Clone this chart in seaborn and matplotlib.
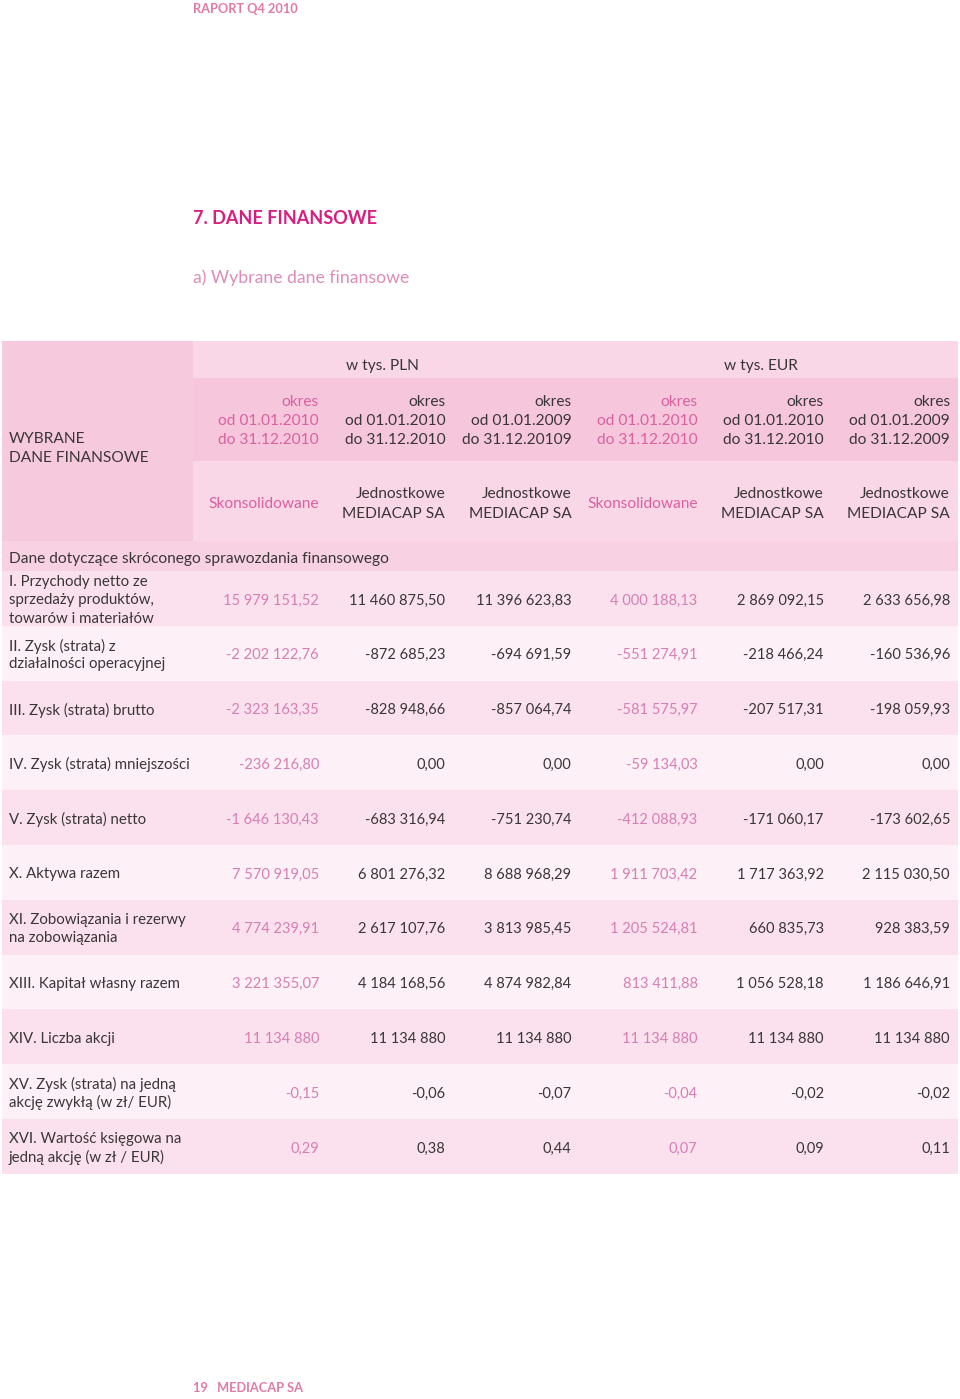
import matplotlib
matplotlib.use("Agg")
import matplotlib.pyplot as plt
import seaborn as sns

sns.set_theme(style="white")
plt.rcParams['font.family'] = ['Lato', 'DejaVu Sans']

# dane tabeli
waluty = ["w tys. PLN", "w tys. EUR"]
okresy = [
    ["okres", "od 01.01.2010", "do 31.12.2010"],
    ["okres", "od 01.01.2010", "do 31.12.2010"],
    ["okres", "od 01.01.2009", "do 31.12.20109"],
    ["okres", "od 01.01.2010", "do 31.12.2010"],
    ["okres", "od 01.01.2010", "do 31.12.2010"],
    ["okres", "od 01.01.2009", "do 31.12.2009"],
]
rodzaje = [
    ["Skonsolidowane"],
    ["Jednostkowe", "MEDIACAP SA"],
    ["Jednostkowe", "MEDIACAP SA"],
    ["Skonsolidowane"],
    ["Jednostkowe", "MEDIACAP SA"],
    ["Jednostkowe", "MEDIACAP SA"],
]
pozycje = [
    ["I. Przychody netto ze", "sprzedaży produktów,", "towarów i materiałów"],
    ["II. Zysk (strata) z", "działalności operacyjnej"],
    ["III. Zysk (strata) brutto"],
    ["IV. Zysk (strata) mniejszości"],
    ["V. Zysk (strata) netto"],
    ["X. Aktywa razem"],
    ["XI. Zobowiązania i rezerwy", "na zobowiązania"],
    ["XIII. Kapitał własny razem"],
    ["XIV. Liczba akcji"],
    ["XV. Zysk (strata) na jedną", "akcję zwykłą (w zł/ EUR)"],
    ["XVI. Wartość księgowa na", "jedną akcję (w zł / EUR)"],
]
wartosci = [
    ["15 979 151,52", "11 460 875,50", "11 396 623,83", "4 000 188,13", "2 869 092,15", "2 633 656,98"],
    ["-2 202 122,76", "-872 685,23", "-694 691,59", "-551 274,91", "-218 466,24", "-160 536,96"],
    ["-2 323 163,35", "-828 948,66", "-857 064,74", "-581 575,97", "-207 517,31", "-198 059,93"],
    ["-236 216,80", "0,00", "0,00", "-59 134,03", "0,00", "0,00"],
    ["-1 646 130,43", "-683 316,94", "-751 230,74", "-412 088,93", "-171 060,17", "-173 602,65"],
    ["7 570 919,05", "6 801 276,32", "8 688 968,29", "1 911 703,42", "1 717 363,92", "2 115 030,50"],
    ["4 774 239,91", "2 617 107,76", "3 813 985,45", "1 205 524,81", "660 835,73", "928 383,59"],
    ["3 221 355,07", "4 184 168,56", "4 874 982,84", "813 411,88", "1 056 528,18", "1 186 646,91"],
    ["11 134 880", "11 134 880", "11 134 880", "11 134 880", "11 134 880", "11 134 880"],
    ["-0,15", "-0,06", "-0,07", "-0,04", "-0,02", "-0,02"],
    ["0,29", "0,38", "0,44", "0,07", "0,09", "0,11"],
]
skonsolidowane = [0, 3]  # kolumny wyróżnione kolorem

DARK = "#3a3638"
PINK_TXT = "#d9619f"
PINK_VAL = "#d67fb3"
DY = 2  # przesuniecie tekstu w dol

fig = plt.figure(figsize=(9.6, 13.99), dpi=100)
ax = fig.add_axes([0, 0, 1, 1])
ax.set_xlim(0, 960)
ax.set_ylim(1399, 0)
ax.axis("off")


def txt(x, y, s, **kw):
    kw.setdefault("va", "center")
    ax.text(x, y + DY, s, **kw)


# naglowki strony
txt(193, 7, "RAPORT Q4 2010", color="#e07aa8", fontsize=9.2, fontweight="bold")
txt(193, 217, "7. DANE FINANSOWE", color="#d81c80", fontsize=13, fontweight="bold")
txt(193, 276, "a) Wybrane dane finansowe", color="#dc8cba", fontsize=12.7)
txt(193, 1386, "19   MEDIACAP SA", color="#e07aa8", fontsize=9.2, fontweight="bold")

# tlo naglowka tabeli
bar = dict(linewidth=0)
ax.barh(441, 191, height=200, left=2, color="#f6c9dd", **bar)
ax.barh(359.5, 765, height=37, left=193, color="#f9d7e7", **bar)
ax.barh(419.5, 765, height=83, left=193, color="#f6c7dc", **bar)
ax.barh(501, 765, height=80, left=193, color="#f9d7e7", **bar)
ax.barh(556, 956, height=30, left=2, color="#f8d2e3", **bar)

txt(9, 437, "WYBRANE", color=DARK, fontsize=11.2)
txt(9, 456, "DANE FINANSOWE", color=DARK, fontsize=11.2)
txt(9, 557, "Dane dotyczące skróconego sprawozdania finansowego", color=DARK, fontsize=11.2)

col_right = [319 + 126.2 * i for i in range(6)]
for k, w in enumerate(waluty):
    txt(382 + 379 * k, 364, w, color=DARK, fontsize=11.2, ha="center")

for i in range(6):
    c = PINK_TXT if i in skonsolidowane else DARK
    for j, line in enumerate(okresy[i]):
        txt(col_right[i], 400 + 19 * j, line, color=c, fontsize=11.2, ha="right")
    lines = rodzaje[i]
    y0 = 502 - 9.5 * (len(lines) - 1)
    for j, line in enumerate(lines):
        txt(col_right[i], y0 + 19 * j, line, color=c, fontsize=11.2, ha="right")

# wiersze danych
row_top = 571
row_h = 54.8
for r, (lab, vals) in enumerate(zip(pozycje, wartosci)):
    yc = row_top + row_h * (r + 0.5)
    bg = "#fae1ed" if r % 2 == 0 else "#fdf0f6"
    ax.barh(yc, 956, height=row_h, left=2, color=bg, **bar)
    y0 = yc - 9.2 * (len(lab) - 1)
    for j, line in enumerate(lab):
        txt(9, y0 + 18.4 * j, line, color=DARK, fontsize=10.8)
    for i, v in enumerate(vals):
        c = PINK_VAL if i in skonsolidowane else DARK
        txt(col_right[i], yc, v, color=c, fontsize=10.5, ha="right")

fig.savefig("out.png", dpi=100, facecolor="white")
